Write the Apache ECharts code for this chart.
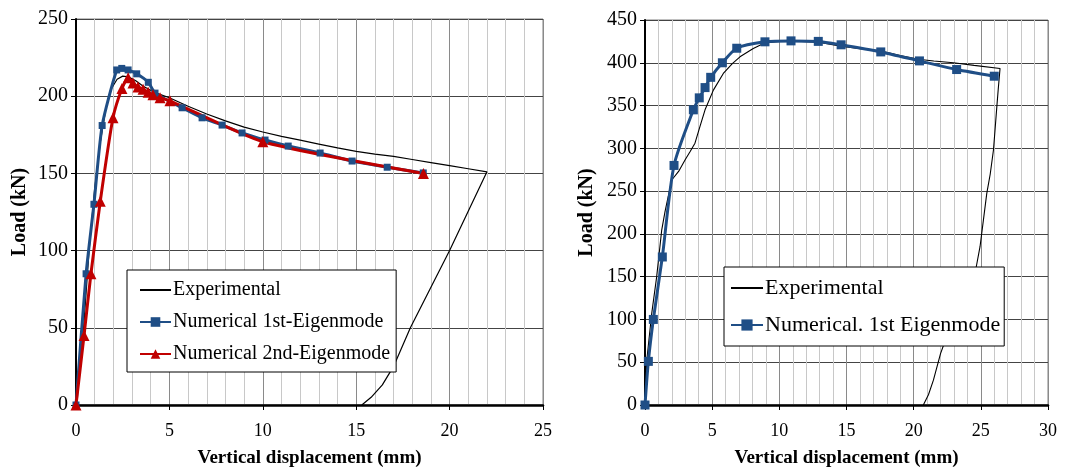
<!DOCTYPE html>
<html>
<head>
<meta charset="utf-8">
<script src="https://cdn.jsdelivr.net/npm/echarts@6/dist/echarts.min.js"></script>
<style>
  html, body { margin: 0; padding: 0; background: #fff; }
  #chart { width: 1070px; height: 474px; }
</style>
</head>
<body>
<div id="chart"></div>
<script>
// left panel: load vs vertical displacement
var expLeft = [[0,0],[0.35,40],[0.7,100],[1.0,140],[1.3,170],[1.6,192],[1.9,205],[2.2,211],[2.5,213],[2.8,212.5],
  [3.2,210],[3.6,206.5],[4.2,202.5],[5,199],[6,193.5],[7,188.5],[8,184],[9,180],[10,176.8],[11,174],[12,171.5],
  [13,169],[14,166.5],[15,164.3],[16,162.5],[17,161],[18,159],[19,157],[20,155],[21,153],[22,151],[22.1,150],
  [20,100],[17.9,50],[17,25],[16.4,13],[15.8,5],[15.3,0]];
var num1Left = [[0,0],[0.54,85],[0.96,130],[1.4,181],[2.18,217],[2.45,218],[2.79,217],[3.25,214.5],[3.87,209],
  [4.23,202],[5.68,192.5],[6.75,186],[7.82,181.3],[8.89,176.2],[10.12,171.6],[11.36,167.7],[13.07,163.2],
  [14.78,158],[16.66,154],[18.59,150.3]];
var num2Left = [[0,0],[0.43,45],[0.8,85],[1.3,132],[1.98,186],[2.46,205],[2.79,212],[3.05,208.5],[3.32,206],
  [3.59,204.5],[3.86,202.5],[4.12,201],[4.5,199],[5.03,197],[10.0,170.5],[18.6,150]];

// right panel
var expRight = [[0,0],[0.05,30],[0.15,55],[0.5,107],[0.87,150],[1.24,204],[1.49,226],[1.99,263],[2.5,273],
  [3.0,287],[3.35,296],[3.72,306],[4.1,326],[4.47,345],[5.09,368],[5.83,387.5],[6.5,399],[7.07,407],[8.06,416.7],
  [8.94,423.3],[10,425],[11,425.5],[12,424.5],[13.03,423.8],[14.47,419.8],[16,416.5],[17.5,413.9],[19,408.5],
  [20.35,404.2],[21.5,402],[22.96,400],[24.5,397],[26.43,393.3],[26.3,370],[26.19,348.5],[26.05,320],[25.94,298],
  [25.7,270],[25.44,247],[24.94,185],[24.57,154],[24,125],[23.3,100],[22.46,80],[22,60],[21.47,29],[21.1,12],[20.72,0]];
var num1Right = [[0,0],[0.25,51],[0.62,100],[1.29,173],[2.16,280],[3.6,345],[4.04,359],[4.47,371],[4.89,383],
  [5.76,400],[6.83,417],[8.93,424.5],[10.87,425.6],[12.9,425],[14.6,421],[17.55,412.7],[20.43,402.2],[23.2,392.1],[26.0,384.3]];

var legendLeft = ['Experimental', 'Numerical 1st-Eigenmode', 'Numerical 2nd-Eigenmode'];
var legendRight = ['Experimental', 'Numerical. 1st Eigenmode'];

var serif = '"Liberation Serif", "Times New Roman", serif';
var blue = '#1F4E86', red = '#C00000';

function xAxisOf(grid, max) {
  return {
    type: 'value', gridIndex: grid, min: 0, max: max, interval: 5,
    name: 'Vertical displacement (mm)', nameLocation: 'middle', nameGap: 44,
    nameTextStyle: { fontFamily: serif, fontWeight: 'bold', fontSize: 19, color: '#000' },
    axisLine: { show: true, onZero: false, lineStyle: { color: '#000', width: 2.5 } },
    axisTick: { show: true, length: 5, lineStyle: { color: '#000' } },
    axisLabel: { fontFamily: serif, fontSize: 18, color: '#000', margin: 17 },
    splitLine: { show: true, lineStyle: { color: '#8a8a8a', width: 1 } },
    minorTick: { show: false, splitNumber: 5 },
    minorSplitLine: { show: true, lineStyle: { color: '#c8c8c8', width: 1 } }
  };
}

function yAxisOf(grid, max, gap) {
  return {
    type: 'value', gridIndex: grid, min: 0, max: max, interval: 50,
    name: 'Load (kN)', nameLocation: 'middle', nameGap: gap,
    nameTextStyle: { fontFamily: serif, fontWeight: 'bold', fontSize: 20, color: '#000' },
    axisLine: { show: true, onZero: false, lineStyle: { color: '#000', width: 2 } },
    axisTick: { show: true, length: 5, lineStyle: { color: '#000' } },
    axisLabel: { fontFamily: serif, fontSize: 20, color: '#000', margin: 8 },
    splitLine: { show: true, lineStyle: { color: '#444', width: 1 } }
  };
}

// experimental curve has no markers, so hide the legend symbol
function plainItem(name) {
  return { name: name, itemStyle: { opacity: 0 } };
}

var option = {
  animation: false,
  backgroundColor: '#fff',
  grid: [
    { left: 76, top: 19, width: 467, height: 386, show: true, borderColor: '#808080', borderWidth: 1 },
    { left: 645, top: 20, width: 403, height: 385, show: true, borderColor: '#808080', borderWidth: 1 }
  ],
  xAxis: [xAxisOf(0, 25), xAxisOf(1, 30)],
  yAxis: [yAxisOf(0, 250, 46), yAxisOf(1, 450, 48)],
  legend: [
    {
      data: [plainItem(legendLeft[0]), legendLeft[1], legendLeft[2]],
      orient: 'vertical', left: 127, top: 270,
      padding: [10, 6, 8, 12], itemGap: 12, itemWidth: 31, itemHeight: 12,
      backgroundColor: '#fff', borderColor: '#000', borderWidth: 1, borderRadius: 0,
      textStyle: { fontFamily: serif, fontSize: 20, color: '#000', padding: [0, 0, 0, -3] },
      selectedMode: false
    },
    {
      data: [plainItem(legendRight[0]), legendRight[1]],
      orient: 'vertical', left: 724, top: 267,
      padding: [10, 4, 10, 6], itemGap: 15, itemWidth: 32, itemHeight: 14,
      backgroundColor: '#fff', borderColor: '#000', borderWidth: 1, borderRadius: 0,
      textStyle: { fontFamily: serif, fontSize: 22, color: '#000', padding: [0, 0, 0, -3] },
      selectedMode: false
    }
  ],
  series: [
    {
      name: 'Experimental', type: 'line', xAxisIndex: 0, yAxisIndex: 0, data: expLeft,
      symbol: 'none', lineStyle: { color: '#000', width: 1.2 }, itemStyle: { color: '#000', opacity: 0 }
    },
    {
      name: 'Numerical 1st-Eigenmode', type: 'line', xAxisIndex: 0, yAxisIndex: 0, data: num1Left,
      smooth: 0.2, symbol: 'rect', symbolSize: 7,
      lineStyle: { color: blue, width: 3 }, itemStyle: { color: blue }
    },
    {
      name: 'Numerical 2nd-Eigenmode', type: 'line', xAxisIndex: 0, yAxisIndex: 0, data: num2Left,
      smooth: 0.2, symbol: 'triangle', symbolSize: 11,
      lineStyle: { color: red, width: 3 }, itemStyle: { color: red }
    },
    {
      name: 'Experimental', type: 'line', xAxisIndex: 1, yAxisIndex: 1, data: expRight,
      symbol: 'none', lineStyle: { color: '#000', width: 1.1 }, itemStyle: { color: '#000', opacity: 0 }
    },
    {
      name: 'Numerical. 1st Eigenmode', type: 'line', xAxisIndex: 1, yAxisIndex: 1, data: num1Right,
      smooth: 0.25, symbol: 'rect', symbolSize: 9,
      lineStyle: { color: blue, width: 3 }, itemStyle: { color: blue }
    }
  ]
};

var myChart = echarts.init(document.getElementById('chart'));
myChart.setOption(option);
</script>
</body>
</html>
